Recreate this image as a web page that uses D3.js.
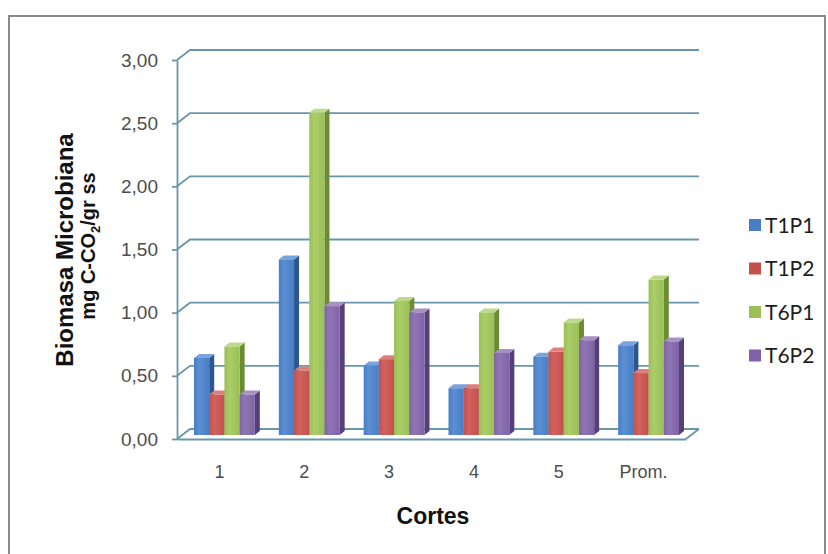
<!DOCTYPE html>
<html>
<head>
<meta charset="utf-8">
<script src="https://cdn.jsdelivr.net/npm/d3@7/dist/d3.min.js"></script>
<style>
  html, body { margin: 0; padding: 0; background: #fff; }
  svg { display: block; }
</style>
</head>
<body>
<svg id="chart" width="828" height="554"></svg>
<script>
// Cut periods and treatments
const categories = ["1", "2", "3", "4", "5", "Prom."];
const seriesNames = ["T1P1", "T1P2", "T6P1", "T6P2"];

// Microbial biomass (mg C-CO2 / gr ss) per treatment
const T1P1 = [0.61, 1.39, 0.55, 0.37, 0.62, 0.71];
const T1P2 = [0.32, 0.51, 0.60, 0.37, 0.66, 0.49];
const T6P1 = [0.70, 2.55, 1.06, 0.97, 0.89, 1.23];
const T6P2 = [0.32, 1.02, 0.97, 0.65, 0.75, 0.74];

const yTicks = [0, 0.5, 1, 1.5, 2, 2.5, 3];

const seriesValues = [T1P1, T1P2, T6P1, T6P2];
const colors = {
  T1P1: { front: "#4a7ec4", light: "#5b8fd4", side: "#2c5690", top: "#79a3dc" },
  T1P2: { front: "#c4504c", light: "#d2625e", side: "#8c2f2c", top: "#dd807c" },
  T6P1: { front: "#9bc057", light: "#abcd68", side: "#6a8c33", top: "#bfd98a" },
  T6P2: { front: "#8063a6", light: "#9075b5", side: "#56407a", top: "#a891c6" }
};

const svg = d3.select("#chart");
const fmt = v => d3.format(".2f")(v).replace(".", ",");

// Subtle horizontal shading on the front faces
const defs = svg.append("defs");
seriesNames.forEach(s => {
  const g = defs.append("linearGradient").attr("id", "grad-" + s)
    .attr("x1", "0").attr("x2", "1").attr("y1", "0").attr("y2", "0");
  g.append("stop").attr("offset", "0%").attr("stop-color", colors[s].front);
  g.append("stop").attr("offset", "35%").attr("stop-color", colors[s].light);
  g.append("stop").attr("offset", "100%").attr("stop-color", colors[s].front);
});

// Front plane of the plot box and oblique depth offset of the back wall
const left = 177, right = 686, floorY = 439, topY = 60;
const depthX = 13, depthY = -10;
// Offset of the bars' front faces inside the box
const barDX = 5, barDY = -4;
// Bar thickness (side face / top face)
const thickX = 5, thickY = -4;

const y = d3.scaleLinear().domain([0, 3]).range([floorY, topY]);
const x0 = d3.scaleBand().domain(categories).range([left, right]);
const x1 = d3.scaleBand().domain(seriesNames).range([12, x0.bandwidth() - 12]);

const gridColor = "#6a96ab";

// Outer chart frame
svg.append("rect")
  .attr("x", 9).attr("y", 16).attr("width", 816).attr("height", 560)
  .attr("fill", "#fff").attr("stroke", "#8a8a8a").attr("stroke-width", 2);

// Back-wall gridlines, slanting back from the value axis
const grid = svg.append("g");
yTicks.forEach(t => {
  const yf = y(t);
  grid.append("path")
    .attr("d", `M${left},${yf} L${left + depthX},${yf + depthY} L${right + depthX},${yf + depthY}`)
    .attr("fill", "none").attr("stroke", gridColor).attr("stroke-width", 1.8);
});
// Right edge of the floor
grid.append("path")
  .attr("d", `M${right},${floorY} L${right + depthX},${floorY + depthY}`)
  .attr("fill", "none").attr("stroke", gridColor).attr("stroke-width", 1.8);

// Value axis
const yAxis = svg.append("g")
  .attr("transform", `translate(${left},0)`)
  .call(d3.axisLeft(y).tickValues(yTicks).tickFormat(fmt).tickSize(5).tickSizeOuter(0).tickPadding(14));
yAxis.select(".domain").attr("stroke", gridColor).attr("stroke-width", 1.8);
yAxis.selectAll(".tick line").attr("stroke", gridColor).attr("stroke-width", 1.8);
yAxis.selectAll(".tick text")
  .attr("fill", "#4d4d4d")
  .style("font-family", "'Liberation Sans', Arial, sans-serif")
  .style("font-size", "19px");

// Category axis (front edge of the floor)
const xAxis = svg.append("g")
  .attr("transform", `translate(0,${floorY})`)
  .call(d3.axisBottom(x0).tickSize(0).tickSizeOuter(0).tickPadding(26));
xAxis.select(".domain").attr("stroke", gridColor).attr("stroke-width", 1.8);
xAxis.selectAll(".tick text")
  .attr("fill", "#4d4d4d")
  .style("font-family", "'Liberation Sans', Arial, sans-serif")
  .style("font-size", "18px");

// 3D columns, drawn left to right so adjacent faces overlap correctly
const bars = svg.append("g");
categories.forEach((c, ci) => {
  seriesNames.forEach((s, si) => {
    const v = seriesValues[si][ci];
    const xl = x0(c) + x1(s) + barDX;
    const xr = xl + x1.bandwidth();
    const yb = y(0) + barDY;
    const yt = y(v) + barDY;
    const col = colors[s];
    const g = bars.append("g");
    // side face
    g.append("path")
      .attr("d", `M${xr},${yt} L${xr + thickX},${yt + thickY} L${xr + thickX},${yb + thickY} L${xr},${yb} Z`)
      .attr("fill", col.side);
    // top face
    g.append("path")
      .attr("d", `M${xl},${yt} L${xr},${yt} L${xr + thickX},${yt + thickY} L${xl + thickX},${yt + thickY} Z`)
      .attr("fill", col.top);
    // front face
    g.append("rect")
      .attr("x", xl).attr("y", yt)
      .attr("width", xr - xl).attr("height", yb - yt)
      .attr("fill", `url(#grad-${s})`);
  });
});

// Axis titles
svg.append("text")
  .attr("transform", "translate(73,250) rotate(-90)")
  .attr("text-anchor", "middle")
  .style("font-family", "'Liberation Sans', Arial, sans-serif")
  .style("font-weight", "bold")
  .style("font-size", "24px")
  .attr("fill", "#111")
  .text("Biomasa Microbiana");

const yTitle2 = svg.append("text")
  .attr("transform", "translate(95,246) rotate(-90)")
  .attr("text-anchor", "middle")
  .style("font-family", "'Liberation Sans', Arial, sans-serif")
  .style("font-weight", "bold")
  .style("font-size", "20px")
  .attr("fill", "#111");
yTitle2.append("tspan").text("mg C-CO");
yTitle2.append("tspan").attr("dy", 5).style("font-size", "13px").text("2");
yTitle2.append("tspan").attr("dy", -5).text("/gr ss");

svg.append("text")
  .attr("x", 433).attr("y", 524)
  .attr("text-anchor", "middle")
  .style("font-family", "'Liberation Sans', Arial, sans-serif")
  .style("font-weight", "bold")
  .style("font-size", "23px")
  .attr("fill", "#111")
  .text("Cortes");

// Legend
const legend = svg.append("g");
seriesNames.forEach((s, i) => {
  const cy = 225 + i * 43.5;
  legend.append("rect")
    .attr("x", 749).attr("y", cy - 6).attr("width", 12).attr("height", 12)
    .attr("fill", colors[s].front);
  legend.append("text")
    .attr("x", 765).attr("y", cy)
    .attr("dy", "0.36em")
    .style("font-family", "Lato, 'Open Sans', sans-serif")
    .style("font-size", "21px")
    .attr("fill", "#1e1e1e")
    .text(s);
});
</script>
</body>
</html>
